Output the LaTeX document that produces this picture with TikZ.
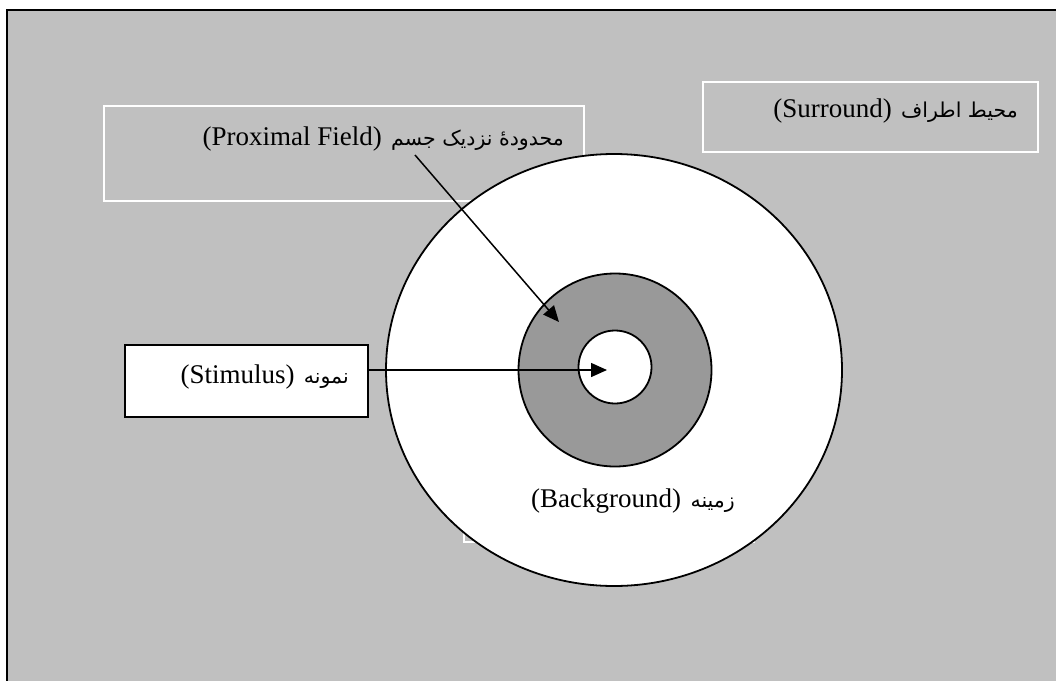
\documentclass[tikz,border=0pt]{standalone}
\usepackage{fontspec}
\setmainfont{Liberation Serif}
\newfontfamily\farsifont[Script=Arabic]{DejaVu Sans}
\TeXXeTstate=1
\usetikzlibrary{arrows.meta}
\definecolor{surroundgray}{HTML}{C0C0C0}
\definecolor{fieldgray}{HTML}{999999}

\begin{document}
\begin{tikzpicture}[x=1pt, y=-1pt,
    labelbox/.style={draw=white, line width=1.5pt},
    ring/.style={draw=black, line width=1.8pt},
    pointer/.style={line width=1.5pt, -{Triangle[length=16pt,width=14pt]}},
    fa/.style={font=\farsifont\fontsize{20.5}{24}\selectfont, inner sep=0pt},
    en/.style={font=\fontsize{27}{32}\selectfont, inner sep=0pt}]
  \useasboundingbox (0,0) rectangle (1056,680);
  \fill[white] (0,0) rectangle (1056,680);
  \draw[fill=surroundgray, line width=2pt] (7,10) rectangle (1070,700);

  \draw[labelbox] (104,106) rectangle (584,201);
  \draw[labelbox] (703,82) rectangle (1038,152);
  \draw[labelbox] (464,490) rectangle (754,542);

  \draw[ring, fill=white] (614,370) ellipse [x radius=228, y radius=216];
  \draw[ring, fill=fieldgray] (615,370) circle [radius=96.5];
  \draw[ring, fill=white] (615,367) circle [radius=36.5];

  \node[draw=black, line width=1.5pt, fill=white, minimum width=243pt,
        minimum height=72pt, inner sep=0pt] (stimbox) at (246.5,381) {};

  \node[fa, anchor=base east] (prox fa) at (564,145) {\beginR محدودهٔ نزدیک جسم\endR};
  \node[en, anchor=base east] (prox en) at ([xshift=-9pt]prox fa.base west) {(Proximal Field)};
  \node[fa, anchor=base east] (surr fa) at (1018,117) {\beginR محیط اطراف\endR};
  \node[en, anchor=base east] (surr en) at ([xshift=-9pt]surr fa.base west) {(Surround)};
  \node[fa, anchor=base east] (stim fa) at (349,383) {\beginR نمونه\endR};
  \node[en, anchor=base east] (stim en) at ([xshift=-9pt]stim fa.base west) {(Stimulus)};
  \node[fa, anchor=base east] (back fa) at (735,507) {\beginR زمینه\endR};
  \node[en, anchor=base east] (back en) at ([xshift=-9pt]back fa.base west) {(Background)};

  \coordinate (prox tail) at (415,155);
  \coordinate (prox tip) at (559,322);
  \coordinate (stim tip) at (607,370);
  \draw[pointer] (prox tail) -- (prox tip);
  \draw[pointer] (stimbox.east |- stim tip) -- (stim tip);
\end{tikzpicture}
\end{document}
